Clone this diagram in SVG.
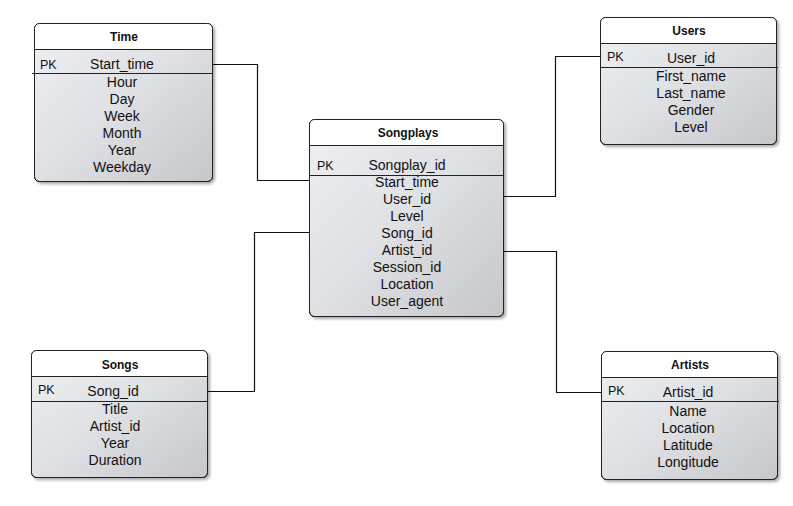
<svg xmlns="http://www.w3.org/2000/svg" width="793" height="506" viewBox="0 0 793 506">
<defs>
<linearGradient id="body" x1="0" y1="0" x2="1" y2="1">
<stop offset="0" stop-color="#eef0f4"/>
<stop offset="0.5" stop-color="#dfe0e4"/>
<stop offset="1" stop-color="#c6c7cb"/>
</linearGradient>
<filter id="sh" x="-10%" y="-10%" width="125%" height="125%">
<feDropShadow dx="2" dy="2" stdDeviation="1.5" flood-color="#000" flood-opacity="0.35"/>
</filter>
</defs>
<style>
.box{fill:url(#body);stroke:#222;stroke-width:1;filter:url(#sh)}
.hdr{fill:#fff;stroke:none}
.frame{fill:none;stroke:#222;stroke-width:1}
.div{stroke:#222;stroke-width:1}
.title{font-family:"Liberation Sans",Arial,sans-serif;font-size:12px;font-weight:bold;fill:#111;text-anchor:middle}
.pk{font-family:"Liberation Sans",Arial,sans-serif;font-size:12.5px;fill:#111}
.f{font-family:"Liberation Sans",Arial,sans-serif;font-size:14px;fill:#111;text-anchor:middle}
.conn{fill:none;stroke:#111;stroke-width:1.2}
</style>
<rect width="793" height="506" fill="#fff"/>

<g id="connectors">
<path class="conn" d="M212.5,64.5 H257.5 V180.5 H309.5"/>
<path class="conn" d="M207.5,391.5 H254.5 V232.5 H309.5"/>
<path class="conn" d="M503.5,196.5 H555.5 V56.5 H600.5"/>
<path class="conn" d="M503.5,251.5 H556.5 V392.5 H601.5"/>
</g>

<g id="time">
<rect class="box" x="34.5" y="23.5" width="178" height="158" rx="5"/>
<path class="hdr" d="M34.5,49.5 V28.5 A5,5 0 0 1 39.5,23.5 H207.5 A5,5 0 0 1 212.5,28.5 V49.5 Z"/>
<rect class="frame" x="34.5" y="23.5" width="178" height="158" rx="5"/>
<line class="div" x1="34.5" y1="49.5" x2="212.5" y2="49.5"/>
<line class="div" x1="32" y1="73.5" x2="212.5" y2="73.5"/>
<text class="title" x="124" y="41">Time</text>
<text class="pk" x="40" y="69">PK</text>
<text class="f" x="122" y="69">Start_time</text>
<text class="f" x="122" y="87">Hour</text>
<text class="f" x="122" y="104">Day</text>
<text class="f" x="122" y="121">Week</text>
<text class="f" x="122" y="138">Month</text>
<text class="f" x="122" y="155">Year</text>
<text class="f" x="122" y="172">Weekday</text>
</g>

<g id="songplays">
<rect class="box" x="309.5" y="119.5" width="194" height="197" rx="5"/>
<path class="hdr" d="M309.5,145.5 V124.5 A5,5 0 0 1 314.5,119.5 H498.5 A5,5 0 0 1 503.5,124.5 V145.5 Z"/>
<rect class="frame" x="309.5" y="119.5" width="194" height="197" rx="5"/>
<line class="div" x1="309.5" y1="145.5" x2="503.5" y2="145.5"/>
<line class="div" x1="309.5" y1="175.5" x2="503.5" y2="175.5"/>
<text class="title" x="408" y="137">Songplays</text>
<text class="pk" x="317" y="169.5">PK</text>
<text class="f" x="407" y="170">Songplay_id</text>
<text class="f" x="407" y="187">Start_time</text>
<text class="f" x="407" y="204">User_id</text>
<text class="f" x="407" y="221">Level</text>
<text class="f" x="407" y="238">Song_id</text>
<text class="f" x="407" y="255">Artist_id</text>
<text class="f" x="407" y="272">Session_id</text>
<text class="f" x="407" y="289">Location</text>
<text class="f" x="407" y="306">User_agent</text>
</g>

<g id="users">
<rect class="box" x="600.5" y="17.5" width="176" height="127" rx="5"/>
<path class="hdr" d="M600.5,43.5 V22.5 A5,5 0 0 1 605.5,17.5 H771.5 A5,5 0 0 1 776.5,22.5 V43.5 Z"/>
<rect class="frame" x="600.5" y="17.5" width="176" height="127" rx="5"/>
<line class="div" x1="600.5" y1="43.5" x2="776.5" y2="43.5"/>
<line class="div" x1="600.5" y1="67.5" x2="778" y2="67.5"/>
<text class="title" x="689" y="35">Users</text>
<text class="pk" x="607" y="61">PK</text>
<text class="f" x="691" y="63">User_id</text>
<text class="f" x="691" y="81">First_name</text>
<text class="f" x="691" y="98">Last_name</text>
<text class="f" x="691" y="115">Gender</text>
<text class="f" x="691" y="132">Level</text>
</g>

<g id="songs">
<rect class="box" x="31.5" y="350.5" width="176" height="127" rx="5"/>
<path class="hdr" d="M31.5,376.5 V355.5 A5,5 0 0 1 36.5,350.5 H202.5 A5,5 0 0 1 207.5,355.5 V376.5 Z"/>
<rect class="frame" x="31.5" y="350.5" width="176" height="127" rx="5"/>
<line class="div" x1="31.5" y1="376.5" x2="207.5" y2="376.5"/>
<line class="div" x1="31.5" y1="401.5" x2="207.5" y2="401.5"/>
<text class="title" x="120" y="368.5">Songs</text>
<text class="pk" x="38" y="394">PK</text>
<text class="f" x="113" y="396">Song_id</text>
<text class="f" x="115" y="414">Title</text>
<text class="f" x="115" y="431">Artist_id</text>
<text class="f" x="115" y="448">Year</text>
<text class="f" x="115" y="465">Duration</text>
</g>

<g id="artists">
<rect class="box" x="601.5" y="351.5" width="176" height="128" rx="5"/>
<path class="hdr" d="M601.5,377.5 V356.5 A5,5 0 0 1 606.5,351.5 H772.5 A5,5 0 0 1 777.5,356.5 V377.5 Z"/>
<rect class="frame" x="601.5" y="351.5" width="176" height="128" rx="5"/>
<line class="div" x1="601.5" y1="377.5" x2="777.5" y2="377.5"/>
<line class="div" x1="601.5" y1="401.5" x2="779" y2="401.5"/>
<text class="title" x="690" y="368.5">Artists</text>
<text class="pk" x="608" y="394.5">PK</text>
<text class="f" x="688" y="396.5">Artist_id</text>
<text class="f" x="688" y="415.5">Name</text>
<text class="f" x="688" y="432.5">Location</text>
<text class="f" x="688" y="449.5">Latitude</text>
<text class="f" x="688" y="466.5">Longitude</text>
</g>
</svg>
